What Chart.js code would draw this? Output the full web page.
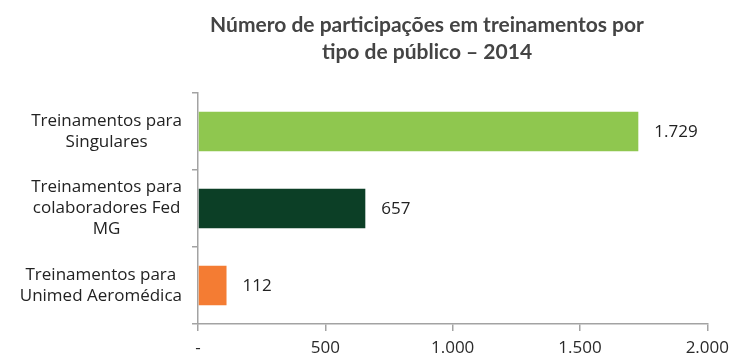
<!DOCTYPE html>
<html>
<head>
<meta charset="utf-8">
<script src="https://cdn.jsdelivr.net/npm/chart.js@4/dist/chart.umd.min.js"></script>
<style>
  body { margin: 0; background: #fff; }
  #wrap { position: relative; width: 736px; height: 354px; overflow: hidden; }
  #titulo {
    position: absolute; left: 0; top: 10px; width: 854px;
    text-align: center; font: bold 21px Lato, sans-serif; line-height: 27px;
    color: #444;
  }
</style>
</head>
<body>
<div id="wrap">
  <div id="titulo">Número de participações em treinamentos por<br>tipo de público – 2014</div>
  <canvas id="grafico" width="736" height="354"></canvas>
</div>
<script>
const categorias = [
  ['Treinamentos para', 'Singulares'],
  ['Treinamentos para', 'colaboradores Fed', 'MG'],
  ['Treinamentos para', 'Unimed Aeromédica']
];
const participacoes = [1729, 657, 112];
const cores = ['#8fc74f', '#0c3f26', '#f47c33'];
const ticksX = [0, 500, 1000, 1500, 2000];

const fonte = '"Open Sans", sans-serif';

// 1729 -> "1.729"
function formatar(v) {
  return String(v).replace(/\B(?=(\d{3})+(?!\d))/g, '.');
}

// valores escritos à direita de cada barra
const rotulosBarras = {
  id: 'rotulosBarras',
  afterDatasetsDraw(chart) {
    const ctx = chart.ctx;
    const meta = chart.getDatasetMeta(0);
    ctx.save();
    ctx.font = '17px ' + fonte;
    ctx.fillStyle = '#222';
    ctx.textAlign = 'left';
    ctx.textBaseline = 'middle';
    meta.data.forEach((bar, i) => {
      ctx.fillText(formatar(participacoes[i]), bar.x + 16, bar.y + 1);
    });
    ctx.restore();
  }
};

// nomes das categorias: cada bloco alinhado à direita, linhas centralizadas no bloco
const rotulosCategorias = {
  id: 'rotulosCategorias',
  afterDraw(chart) {
    const ctx = chart.ctx;
    const y = chart.scales.y;
    const direita = y.right - 16;
    const altLinha = 21;
    ctx.save();
    ctx.font = '17px ' + fonte;
    ctx.fillStyle = '#222';
    ctx.textAlign = 'center';
    ctx.textBaseline = 'middle';
    categorias.forEach((linhas, i) => {
      const largura = Math.max(...linhas.map(l => ctx.measureText(l).width));
      const cx = direita - largura / 2;
      const cy = y.getPixelForTick(i);
      const y0 = cy - (linhas.length - 1) * altLinha / 2;
      linhas.forEach((l, k) => ctx.fillText(l, cx, y0 + k * altLinha));
    });
    ctx.restore();
  }
};

new Chart(document.getElementById('grafico'), {
  type: 'bar',
  data: {
    labels: categorias,
    datasets: [{
      data: participacoes,
      backgroundColor: cores,
      categoryPercentage: 1,
      barPercentage: 0.51
    }]
  },
  options: {
    indexAxis: 'y',
    responsive: false,
    animation: false,
    layout: { padding: { top: 93, right: 14, left: 0, bottom: 0 } },
    plugins: { legend: { display: false }, tooltip: { enabled: false } },
    scales: {
      x: {
        min: 0,
        max: 2000,
        afterBuildTicks(scale) { scale.ticks = ticksX.map(v => ({ value: v })); },
        afterFit(scale) { scale.height = 30; },
        border: { color: '#a3a3a3', width: 1.5 },
        grid: { drawOnChartArea: false, tickLength: 7, color: '#a3a3a3', lineWidth: 1.5 },
        ticks: {
          padding: 7,
          color: '#2a2a2a',
          font: { family: fonte, size: 17 },
          maxRotation: 0,
          callback: v => v === 0 ? '-' : formatar(v)
        }
      },
      y: {
        afterFit(scale) { scale.width = 198; },
        border: { color: '#a3a3a3', width: 1.5 },
        grid: { drawOnChartArea: false, tickLength: 6, color: '#a3a3a3', lineWidth: 1.5 },
        ticks: { display: false }
      }
    }
  },
  plugins: [rotulosBarras, rotulosCategorias]
});
</script>
</body>
</html>
